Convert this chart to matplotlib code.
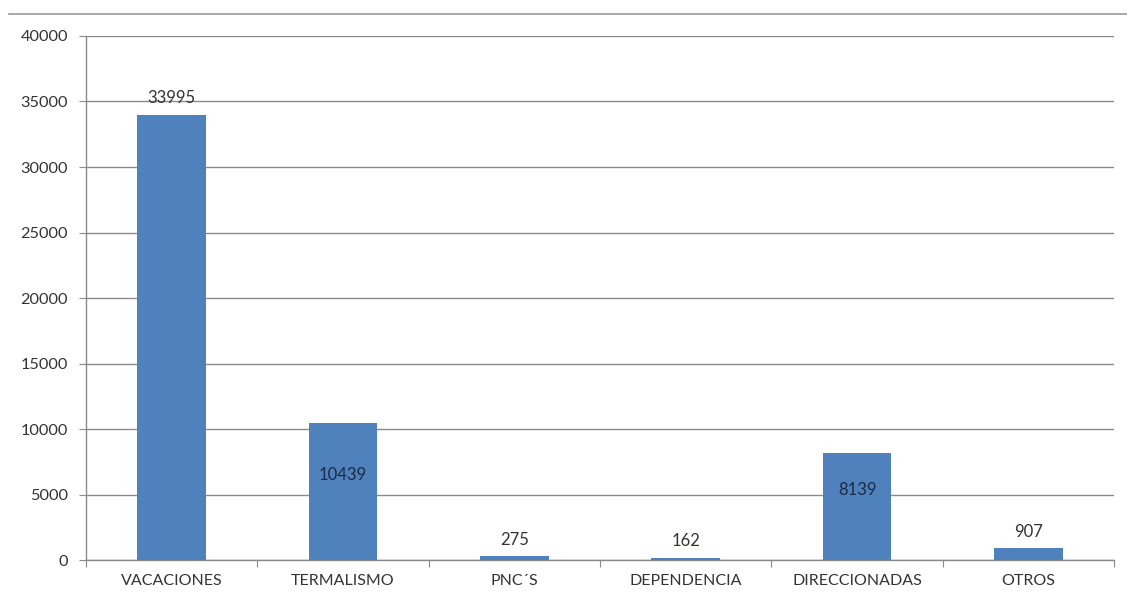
import numpy as np
import matplotlib.pyplot as plt
from matplotlib.lines import Line2D

# datos
categorias = ['VACACIONES', 'TERMALISMO', 'PNC´S', 'DEPENDENCIA', 'DIRECCIONADAS', 'OTROS']
valores = [33995, 10439, 275, 162, 8139, 907]
etiqueta_dentro = [False, True, False, False, True, False]
yticks = [0, 5000, 10000, 15000, 20000, 25000, 30000, 35000, 40000]

plt.rcParams['font.family'] = ['Lato', 'DejaVu Sans']

fig = plt.figure(figsize=(11.27, 6.03), dpi=100)
ax = fig.add_axes([0.0763, 0.0713, 0.9122, 0.869])

x = np.arange(len(categorias))
ax.bar(x, valores, width=0.4, color='#4F81BD', zorder=3)

# etiquetas de valor
for xi, v, dentro in zip(x, valores, etiqueta_dentro):
    if dentro:
        ax.text(xi, v / 2 + 1300, str(v), ha='center', va='center',
                fontsize=12, color='#1c2a44', zorder=4)
    else:
        ax.text(xi, v + 650, str(v), ha='center', va='bottom',
                fontsize=12, color='#333333', zorder=4)

ax.set_xlim(-0.5, len(categorias) - 0.5)
ax.set_ylim(0, 40000)
ax.set_yticks(yticks)
ax.set_yticklabels([str(t) for t in yticks], fontsize=11.7, color='#333333')
ax.yaxis.grid(True, color='#8a8a8a', linewidth=1, zorder=0)

# ticks del eje x en los bordes de categoria
ax.set_xticks(np.arange(-0.5, len(categorias) + 0.5, 1))
ax.set_xticklabels([])
ax.set_xticks(x, minor=True)
ax.set_xticklabels(categorias, minor=True, fontsize=11.5, color='#333333')
ax.tick_params(axis='x', which='minor', length=0, pad=10)
ax.tick_params(axis='x', which='major', length=5, color='#8a8a8a', direction='out')
ax.tick_params(axis='y', length=5, color='#8a8a8a', direction='out', pad=8)

for lado in ['top', 'right']:
    ax.spines[lado].set_visible(False)
for lado in ['left', 'bottom']:
    ax.spines[lado].set_color('#8a8a8a')
    ax.spines[lado].set_linewidth(1)

# linea superior del recuadro
fig.add_artist(Line2D([0.008, 1.0], [0.977, 0.977], transform=fig.transFigure,
                      color='#9a9a9a', linewidth=1.2))

fig.savefig('out.png', dpi=100)
